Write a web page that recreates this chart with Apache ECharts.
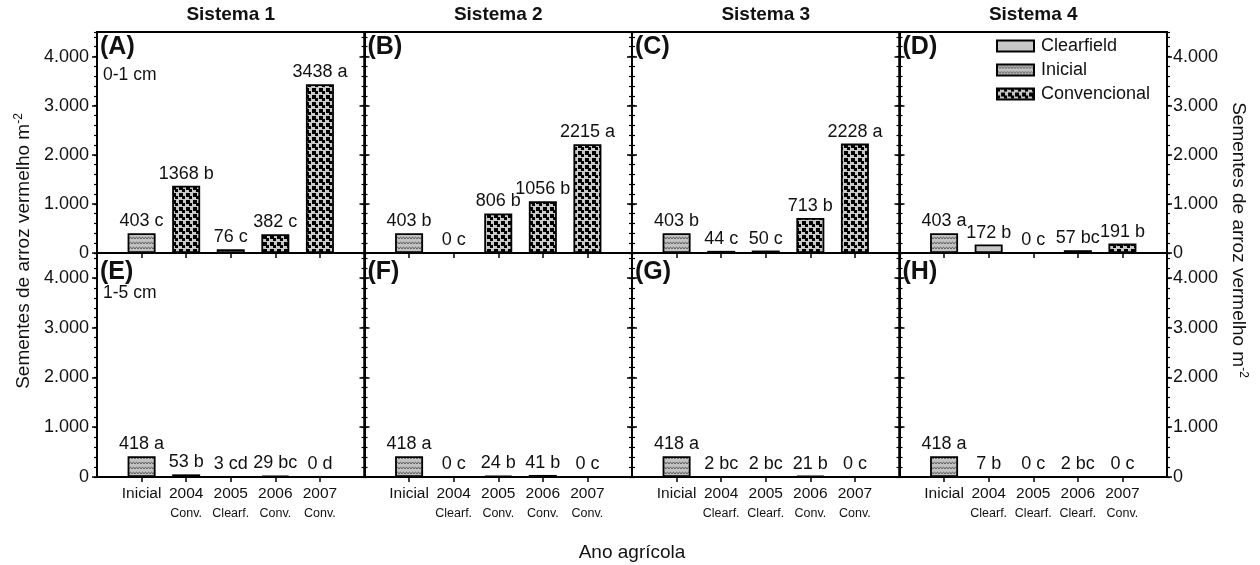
<!DOCTYPE html>
<html>
<head>
<meta charset="utf-8">
<script src="https://cdn.jsdelivr.net/npm/echarts@6/dist/echarts.min.js"></script>
<style>html,body{margin:0;padding:0;background:#fff}#c{width:1260px;height:565px}</style>
</head>
<body>
<div id="c"></div>
<script>
// ---------- DATA ----------
const categories = ['Inicial', '2004', '2005', '2006', '2007'];
const systemTitles = ['Sistema 1', 'Sistema 2', 'Sistema 3', 'Sistema 4'];
const panelLetters = ['(A)', '(B)', '(C)', '(D)', '(E)', '(F)', '(G)', '(H)'];
const depthLabels = ['0-1 cm', '1-5 cm'];
// management type per year (sub-labels); first category is "Inicial"
const mgmtS1 = ['', 'Conv.', 'Clearf.', 'Conv.', 'Conv.'];
const mgmtS2 = ['', 'Clearf.', 'Conv.', 'Conv.', 'Conv.'];
const mgmtS3 = ['', 'Clearf.', 'Clearf.', 'Conv.', 'Conv.'];
const mgmtS4 = ['', 'Clearf.', 'Clearf.', 'Clearf.', 'Conv.'];
// 0-1 cm
const valsA = [403, 1368, 76, 382, 3438];  const letA = ['c', 'b', 'c', 'c', 'a'];
const valsB = [403, 0, 806, 1056, 2215];   const letB = ['b', 'c', 'b', 'b', 'a'];
const valsC = [403, 44, 50, 713, 2228];    const letC = ['b', 'c', 'c', 'b', 'a'];
const valsD = [403, 172, 0, 57, 191];      const letD = ['a', 'b', 'c', 'bc', 'b'];
// 1-5 cm
const valsE = [418, 53, 3, 29, 0];         const letE = ['a', 'b', 'cd', 'bc', 'd'];
const valsF = [418, 0, 24, 41, 0];         const letF = ['a', 'c', 'b', 'b', 'c'];
const valsG = [418, 2, 2, 21, 0];          const letG = ['a', 'bc', 'bc', 'b', 'c'];
const valsH = [418, 7, 0, 2, 0];           const letH = ['a', 'b', 'c', 'bc', 'c'];
const yTicks = [0, 1000, 2000, 3000, 4000];
const legendNames = ['Clearfield', 'Inicial', 'Convencional'];

// ---------- BUILD ----------
const mgmts = [mgmtS1, mgmtS2, mgmtS3, mgmtS4];
const panelVals = [valsA, valsB, valsC, valsD, valsE, valsF, valsG, valsH];
const panelLets = [letA, letB, letC, letD, letE, letF, letG, letH];
const FONT = "'Liberation Sans', Arial, sans-serif";

function makeConv() {
  const c = document.createElement('canvas'); c.width = 7; c.height = 7;
  const g = c.getContext('2d');
  g.fillStyle = '#c9c9c9'; g.fillRect(0, 0, 7, 7);
  g.fillStyle = '#000';
  g.fillRect(0, 0, 3, 3); g.fillRect(4, 4, 3, 3);
  g.fillRect(4, 0, 3, 1); g.fillRect(0, 4, 1, 3);
  return c;
}
function makeIni() {
  const c = document.createElement('canvas'); c.width = 6; c.height = 5;
  const g = c.getContext('2d');
  g.fillStyle = '#c2c2c2'; g.fillRect(0, 0, 6, 5);
  g.strokeStyle = '#555'; g.lineWidth = 1;
  g.beginPath(); g.moveTo(0, 4); g.quadraticCurveTo(1.5, 0.5, 3, 4);
  g.quadraticCurveTo(4.5, 0.5, 6, 4); g.stroke();
  return c;
}
const patConv = { image: makeConv(), repeat: 'repeat' };
const patIni = { image: makeIni(), repeat: 'repeat' };
const colClear = '#c8c8c8';

const colW = 267.5, left0 = 97;
const rows = [{ top: 32, height: 221 }, { top: 253, height: 224 }];
const grids = [], xAxes = [], yAxes = [], series = [], graphics = [];

function yLabelFmt(v) { return v === 0 ? '0' : (v / 1000) + '.000'; }

for (let p = 0; p < 8; p++) {
  const r = p < 4 ? 0 : 1, c = p % 4;
  const gl = left0 + c * colW;
  grids.push({ left: gl, top: rows[r].top, width: colW, height: rows[r].height,
    show: true, borderColor: '#000', borderWidth: 2, backgroundColor: 'transparent' });
  const mg = mgmts[c];
  xAxes.push({
    type: 'category', gridIndex: p, boundaryGap: false,
    data: [''].concat(categories, ['']),
    axisLine: { lineStyle: { color: '#000', width: 2 } },
    axisTick: { show: true, length: 5, interval: (i) => i > 0 && i < 6, lineStyle: { color: '#000', width: 1.5 } },
    axisLabel: {
      show: r === 1, interval: 0, margin: 7, color: '#111', fontFamily: FONT,
      formatter: (v, i) => {
        if (i === 0 || i === 6) return '';
        const sub = mg[i - 1];
        return sub ? '{m|' + v + '}\n{s|' + sub + '}' : '{m|' + v + '}';
      },
      rich: { m: { fontSize: 15.5, lineHeight: 19, fontFamily: FONT, color: '#111' },
              s: { fontSize: 12.5, lineHeight: 21, fontFamily: FONT, color: '#111' } }
    },
    splitLine: { show: false }
  });
  const yBase = yAxes.length;
  ['left', 'right'].forEach(pos => {
    const showLab = (pos === 'left' && c === 0) || (pos === 'right' && c === 3);
    yAxes.push({
      type: 'value', gridIndex: p, position: pos, min: 0, max: 4500, interval: 1000,
      axisLine: { show: true, lineStyle: { color: '#000', width: 2 } },
      axisTick: { show: true, length: 5, lineStyle: { color: '#000', width: 1.5 } },
      splitLine: { show: false },
      axisLabel: { show: showLab, showMaxLabel: false, margin: pos === 'left' ? 8 : 6,
        fontSize: 18, fontFamily: FONT, color: '#111', formatter: yLabelFmt }
    });
    yAxes.push({
      type: 'value', gridIndex: p, position: pos, min: 0, max: 4500, interval: 200,
      axisLine: { show: false },
      axisTick: { show: true, length: 3, lineStyle: { color: '#000', width: 1.2 } },
      splitLine: { show: false }, axisLabel: { show: false }
    });
  });
  const vals = panelVals[p], lets = panelLets[p];
  const typeOf = (i) => i === 0 ? 'Inicial' : (mg[i] === 'Conv.' ? 'Convencional' : 'Clearfield');
  const styleOf = { Inicial: patIni, Convencional: patConv, Clearfield: colClear };
  ['Inicial', 'Clearfield', 'Convencional'].forEach(name => {
    const data = [null];
    vals.forEach((v, i) => data.push(typeOf(i) === name ? v : null));
    data.push(null);
    series.push({
      type: 'bar', name: name, xAxisIndex: p, yAxisIndex: yBase, data: data,
      barWidth: 28, barGap: '-100%',
      itemStyle: { color: styleOf[name], borderColor: '#000', borderWidth: 1.8 },
      label: { show: true, position: 'top', distance: 3, fontSize: 18, fontFamily: FONT, color: '#111',
        formatter: (prm) => prm.value == null ? '' : prm.value + ' ' + lets[prm.dataIndex - 1] },
      emphasis: { disabled: true }, animation: false
    });
  });
  graphics.push({ type: 'text', x: gl + 3, y: rows[r].top + (r === 0 ? 15 : 19),
    style: { text: panelLetters[p], font: 'bold 25px ' + FONT, fill: '#111', align: 'left', verticalAlign: 'middle' } });
  if (c === 0) {
    graphics.push({ type: 'text', x: gl + 6, y: rows[r].top + (r === 0 ? 43 : 40),
      style: { text: depthLabels[r], font: '17.5px ' + FONT, fill: '#111', align: 'left', verticalAlign: 'middle' } });
  }
  if (r === 0) {
    graphics.push({ type: 'text', x: gl + colW / 2, y: 15,
      style: { text: systemTitles[c], font: 'bold 19px ' + FONT, fill: '#111', align: 'center', verticalAlign: 'middle' } });
  }
}

const yTitleRich = {
  n: { fontSize: 19, lineHeight: 22, fontFamily: FONT, fill: '#111' },
  sup: { fontSize: 12, lineHeight: 12, fontFamily: FONT, fill: '#111', verticalAlign: 'top' }
};
graphics.push({ type: 'text', x: 24, y: 251, rotation: Math.PI / 2,
  style: { text: '{n|Sementes de arroz vermelho m}{sup|-2}', rich: yTitleRich, align: 'center', verticalAlign: 'middle' } });
graphics.push({ type: 'text', x: 1238, y: 240, rotation: -Math.PI / 2,
  style: { text: '{n|Sementes de arroz vermelho m}{sup|-2}', rich: yTitleRich, align: 'center', verticalAlign: 'middle' } });
graphics.push({ type: 'text', x: 632, y: 553,
  style: { text: 'Ano agrícola', font: '19px ' + FONT, fill: '#111', align: 'center', verticalAlign: 'middle' } });

const chart = echarts.init(document.getElementById('c'), null, { renderer: 'canvas' });
chart.setOption({
  animation: false,
  backgroundColor: '#fff',
  textStyle: { fontFamily: FONT },
  grid: grids, xAxis: xAxes, yAxis: yAxes, series: series,
  legend: {
    data: legendNames, orient: 'vertical', left: 996, top: 37, padding: 0,
    icon: 'rect', itemWidth: 37, itemHeight: 11, itemGap: 6,
    textStyle: { fontSize: 18, fontFamily: FONT, color: '#111', padding: [0, 0, 0, 2] },
    selectedMode: false
  },
  graphic: graphics
});
</script>
</body>
</html>
